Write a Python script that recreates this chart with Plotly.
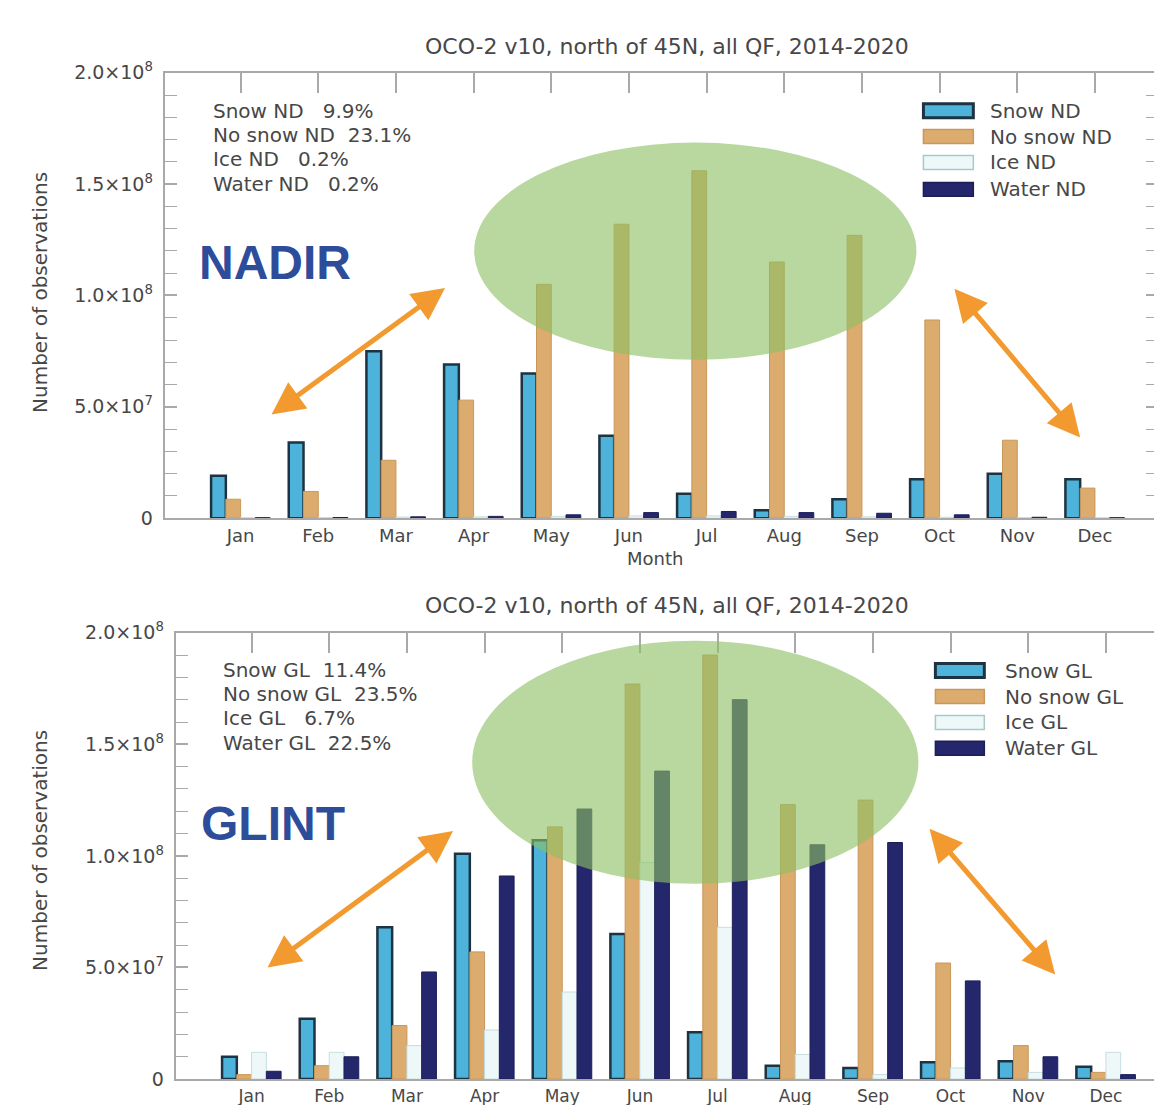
import plotly.graph_objects as go

W, H = 1162, 1105

months = ["Jan", "Feb", "Mar", "Apr", "May", "Jun", "Jul", "Aug", "Sep", "Oct", "Nov", "Dec"]
month_idx = [1, 2, 3, 4, 5, 6, 7, 8, 9, 10, 11, 12]

# NADIR (ND) counts per month
snow_nd = [1.9e7, 3.4e7, 7.5e7, 6.9e7, 6.5e7, 3.7e7, 1.1e7, 3.5e6, 8.5e6, 1.75e7, 2.0e7, 1.75e7]
nosnow_nd = [0.85e7, 1.2e7, 2.6e7, 5.3e7, 1.05e8, 1.32e8, 1.56e8, 1.15e8, 1.27e8, 8.9e7, 3.5e7, 1.35e7]
ice_nd = [2e5, 3e5, 5e5, 6e5, 8e5, 1.0e6, 1.0e6, 8e5, 6e5, 4e5, 3e5, 2e5]
water_nd = [2e5, 3e5, 6e5, 8e5, 1.5e6, 2.5e6, 3.0e6, 2.5e6, 2.2e6, 1.5e6, 4e5, 2e5]

# GLINT (GL) counts per month
snow_gl = [1.0e7, 2.7e7, 6.8e7, 1.01e8, 1.07e8, 6.5e7, 2.1e7, 6.0e6, 5.0e6, 7.5e6, 8.0e6, 5.5e6]
nosnow_gl = [2.0e6, 6.0e6, 2.4e7, 5.7e7, 1.13e8, 1.77e8, 1.90e8, 1.23e8, 1.25e8, 5.2e7, 1.5e7, 3.0e6]
ice_gl = [1.2e7, 1.2e7, 1.5e7, 2.2e7, 3.9e7, 9.7e7, 6.8e7, 1.1e7, 2.0e6, 5.0e6, 3.0e6, 1.2e7]
water_gl = [3.5e6, 1.0e7, 4.8e7, 9.1e7, 1.21e8, 1.38e8, 1.70e8, 1.05e8, 1.06e8, 4.4e7, 1.0e7, 2.0e6]

nd_labels = ["Snow ND", "No snow ND", "Ice ND", "Water ND"]
gl_labels = ["Snow GL", "No snow GL", "Ice GL", "Water GL"]
nd_pct = ["Snow ND   9.9%", "No snow ND  23.1%", "Ice ND   0.2%", "Water ND   0.2%"]
gl_pct = ["Snow GL  11.4%", "No snow GL  23.5%", "Ice GL   6.7%", "Water GL  22.5%"]

ytick_vals = [0, 5e7, 1e8, 1.5e8, 2e8]
ytick_text = ["0", "5.0×10<sup>7</sup>", "1.0×10<sup>8</sup>", "1.5×10<sup>8</sup>", "2.0×10<sup>8</sup>"]
title_text = "OCO-2 v10, north of 45N, all QF, 2014-2020"

fills = ["#4db3da", "#dcab6e", "#eef8f8", "#25276c"]
lines = ["#1e3342", "#c9975b", "#c6dede", "#1c1e58"]
lwidth = [2.5, 1, 1, 1]

FONT = "DejaVu Sans"
GRAY = "#474747"

# mapping from reference-picture pixels to paper fractions (compensates page offset)
X_OFF, Y_OFF, Y_SPAN = 8, 18, 1085


def px(x):
    return (x - X_OFF) / W


def py(y):
    return 1 - (y - Y_OFF) / Y_SPAN


fig = go.Figure()

bw = 0.19
offsets = [-0.38, -0.19, 0.0, 0.19]

for series, xa, ya in [
    ([snow_nd, nosnow_nd, ice_nd, water_nd], "x", "y"),
    ([snow_gl, nosnow_gl, ice_gl, water_gl], "x2", "y2"),
]:
    for i, vals in enumerate(series):
        fig.add_trace(go.Bar(
            x=month_idx, y=vals, width=bw, offset=offsets[i],
            marker=dict(color=fills[i], line=dict(color=lines[i], width=lwidth[i])),
            xaxis=xa, yaxis=ya, showlegend=False,
        ))

# invisible traces to activate top-tick overlay axes
fig.add_trace(go.Scatter(x=[1], y=[0], xaxis="x3", yaxis="y", mode="markers",
                         marker=dict(opacity=0), showlegend=False, hoverinfo="skip"))
fig.add_trace(go.Scatter(x=[1], y=[0], xaxis="x4", yaxis="y2", mode="markers",
                         marker=dict(opacity=0), showlegend=False, hoverinfo="skip"))

spacing = 77.8
top_left, top_right, top_jan = 165, 1160, 241
bot_left, bot_right, bot_jan = 176, 1170, 252
top_range = [1 - (top_jan - top_left) / spacing, 1 + (top_right - top_jan) / spacing]
bot_range = [1 - (bot_jan - bot_left) / spacing, 1 + (bot_right - bot_jan) / spacing]

top_y = [py(517), py(70)]
bot_y = [py(1080), py(632)]

axcol = "#a9a9a9"


def xaxis_common(rng, dom, anchor, fsize, standoff):
    return dict(range=rng, domain=dom, anchor=anchor, tickvals=month_idx, ticktext=months,
                ticks="", showline=True, linecolor=axcol, linewidth=2, mirror=True,
                showgrid=False, zeroline=False,
                tickfont=dict(family=FONT, size=fsize, color=GRAY), ticklabelstandoff=standoff)


def yaxis_common(dom, anchor):
    return dict(range=[0, 2e8], domain=dom, anchor=anchor, tickvals=ytick_vals, ticktext=ytick_text,
                ticks="inside", ticklen=12, tickcolor=axcol, tickwidth=1.5,
                showline=True, linecolor=axcol, linewidth=2, mirror="allticks",
                showgrid=False, zeroline=False,
                minor=dict(dtick=1e7, ticks="inside", ticklen=6, tickcolor=axcol, tickwidth=1),
                tickfont=dict(family=FONT, size=19, color=GRAY), ticklabelstandoff=6)


def xtop(rng, dom, anchor, over):
    return dict(range=rng, domain=dom, anchor=anchor, overlaying=over, side="top",
                tickvals=month_idx, showticklabels=False, ticks="inside", ticklen=20,
                tickcolor=axcol, tickwidth=1.5, showline=False, showgrid=False, zeroline=False)


top_dom = [px(top_left), min(1.0, px(top_right))]
bot_dom = [px(bot_left), min(1.0, px(bot_right))]

fig.update_layout(
    width=W, height=H,
    margin=dict(l=0, r=0, t=0, b=0),
    paper_bgcolor="white", plot_bgcolor="white",
    barmode="overlay",
    showlegend=False,
    xaxis=xaxis_common(top_range, top_dom, "y", 18, 0),
    yaxis=yaxis_common(top_y, "x"),
    xaxis2=xaxis_common(bot_range, bot_dom, "y2", 17, 1),
    yaxis2=yaxis_common(bot_y, "x2"),
    xaxis3=xtop(top_range, top_dom, "y", "x"),
    xaxis4=xtop(bot_range, bot_dom, "y2", "x2"),
)

shapes = []
annotations = []


def xdata(pxv, jan):
    return 1 + (pxv - jan) / spacing


# green highlight ellipses
shapes.append(dict(type="circle", xref="x", yref="y",
                   x0=xdata(475, top_jan), x1=xdata(918, top_jan),
                   y0=(517 - 358) / 447 * 2e8, y1=(517 - 140) / 447 * 2e8,
                   fillcolor="rgba(140,192,100,0.62)", line=dict(width=0), layer="above"))
shapes.append(dict(type="circle", xref="x2", yref="y2",
                   x0=xdata(473, bot_jan), x1=xdata(920, bot_jan),
                   y0=(1080 - 884) / 448 * 2e8, y1=(1080 - 640) / 448 * 2e8,
                   fillcolor="rgba(140,192,100,0.62)", line=dict(width=0), layer="above"))


def legend(x0, x1, rows, text_x, labels):
    for i, (yc, lab) in enumerate(zip(rows, labels)):
        shapes.append(dict(type="rect", xref="paper", yref="paper",
                           x0=px(x0), x1=px(x1), y0=py(yc + 7), y1=py(yc - 7),
                           fillcolor=fills[i], line=dict(color=lines[i] if i != 2 else "#a9c9c9",
                                                         width=3 if i == 0 else 1.5)))
        annotations.append(dict(xref="paper", yref="paper", x=px(text_x), y=py(yc),
                                text=lab, showarrow=False, xanchor="left", yanchor="middle",
                                font=dict(family=FONT, size=20, color=GRAY)))


legend(925, 975, [108, 134, 160, 187], 990, nd_labels)
legend(937, 986, [670, 696, 722, 748], 1005, gl_labels)


def stats(x, rows, labels):
    for yc, lab in zip(rows, labels):
        annotations.append(dict(xref="paper", yref="paper", x=px(x), y=py(yc), text=lab,
                                showarrow=False, xanchor="left", yanchor="middle",
                                font=dict(family=FONT, size=20, color=GRAY)))


stats(211, [108, 132, 157, 182], nd_pct)
stats(221, [669, 693, 718, 743], gl_pct)

for yc in [44, 605]:
    annotations.append(dict(xref="paper", yref="paper", x=px(668), y=py(yc), text=title_text,
                            showarrow=False, xanchor="center", yanchor="middle",
                            font=dict(family=FONT, size=22, color=GRAY)))
for yc in [290, 850]:
    annotations.append(dict(xref="paper", yref="paper", x=px(40), y=py(yc),
                            text="Number of observations", textangle=-90, showarrow=False,
                            xanchor="center", yanchor="middle",
                            font=dict(family=FONT, size=20, color=GRAY)))
annotations.append(dict(xref="paper", yref="paper", x=px(656), y=py(557), text="Month",
                        showarrow=False, xanchor="center", yanchor="middle",
                        font=dict(family=FONT, size=18, color=GRAY)))

annotations.append(dict(xref="paper", yref="paper", x=px(197), y=py(260), text="<b>NADIR</b>",
                        showarrow=False, xanchor="left", yanchor="middle",
                        font=dict(family="Liberation Sans", size=48, color="#2d4d9b")))
annotations.append(dict(xref="paper", yref="paper", x=px(199), y=py(823), text="<b>GLINT</b>",
                        showarrow=False, xanchor="left", yanchor="middle",
                        font=dict(family="Liberation Sans", size=48, color="#2d4d9b")))

arrows = [((272, 413), (447, 283)), ((1082, 436), (955, 283)),
          ((268, 968), (455, 828)), ((1057, 975), (930, 825))]
for (hx, hy), (tx, ty) in arrows:
    annotations.append(dict(xref="paper", yref="paper", x=px(hx), y=py(hy),
                            ax=tx - hx, ay=(ty - hy) * 0.982, axref="pixel", ayref="pixel",
                            text="", showarrow=True, arrowhead=2, arrowside="end+start",
                            arrowsize=1.3, arrowwidth=5, arrowcolor="#f29a30",
                            standoff=0, startstandoff=0))

fig.update_layout(shapes=shapes, annotations=annotations)

fig.write_html("out.html")
